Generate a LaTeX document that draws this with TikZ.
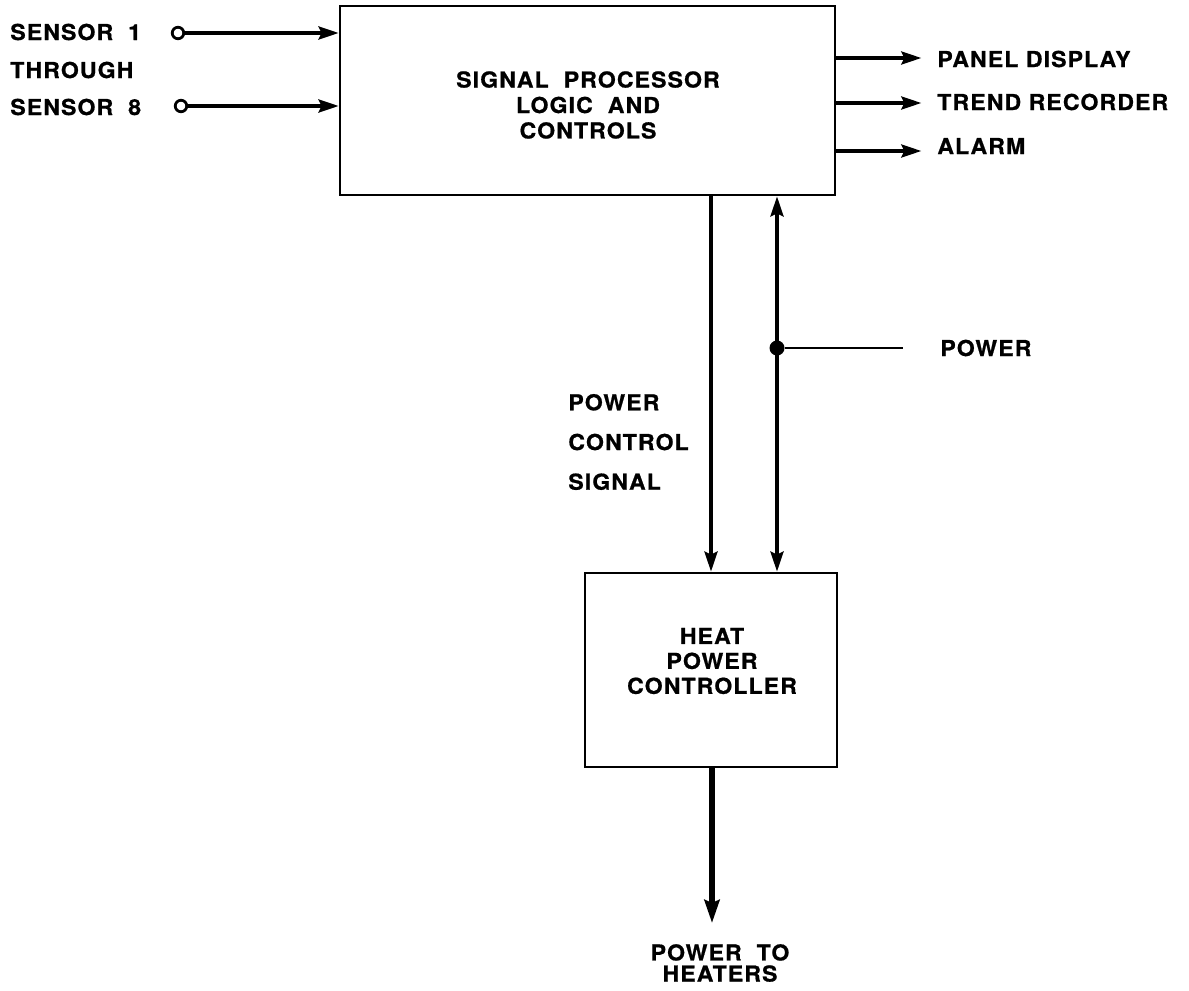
\documentclass[tikz,border=0pt]{standalone}
\usepackage{fontspec}
\setmainfont{TeX Gyre Heros}[FakeStretch=1.05, LetterSpace=5, BoldFeatures={FakeBold=0.8}]
\usetikzlibrary{arrows.meta,positioning,calc}

\begin{document}
\begin{tikzpicture}[
        x=0.02cm, y=-0.02cm,
        blockBox/.style={
            draw,
            line width=1.6pt,
            inner sep=0pt
        },
        sigLabel/.style={
            font=\bfseries\fontsize{12.5}{12.5}\selectfont,
            inner sep=0pt
        },
        sigArrow/.style={
            -{Stealth[length=4mm, width=2.6mm, inset=0.6mm]},
            line width=2pt
        },
        bothArrow/.style={
            {Stealth[length=4mm, width=2.6mm, inset=0.6mm]}-{Stealth[length=4mm, width=2.6mm, inset=0.6mm]},
            line width=2pt
        },
        terminal/.style={
            circle,
            draw,
            line width=1.6pt,
            minimum size=0.23cm,
            inner sep=0pt
        },
        junction/.style={
            circle,
            fill,
            minimum size=0.3cm,
            inner sep=0pt
        }
    ]
        \useasboundingbox (0,0) rectangle (1189,990);

        % Blocks
        \node[blockBox, minimum width=9.9cm, minimum height=3.78cm] (proc) at (587.5,100.5) {};
        \node[sigLabel, align=center, font=\bfseries\fontsize{12.5}{14.5}\selectfont] (procText) at (588,105)
            {SIGNAL\ \ PROCESSOR\\LOGIC\ \ AND\\CONTROLS};

        \node[blockBox, minimum width=5.04cm, minimum height=3.88cm] (heat) at (711,670) {};
        \node[sigLabel, align=center, font=\bfseries\fontsize{12.5}{14.2}\selectfont] (heatText) at (712,661)
            {HEAT\\POWER\\CONTROLLER};

        % Sensor inputs
        \node[sigLabel, anchor=west] (sensA) at (10,32) {SENSOR\ \ 1};
        \node[sigLabel, anchor=west] (sensMid) at (10,70) {THROUGH};
        \node[sigLabel, anchor=west] (sensB) at (10,107) {SENSOR\ \ 8};
        \node[terminal] (s1) at (178,33) {};
        \node[terminal] (s8) at (181,106) {};
        \draw[sigArrow] (s1) -- (s1 -| proc.west);
        \draw[sigArrow] (s8) -- (s8 -| proc.west);

        % Outputs
        \node[sigLabel, anchor=west] (panel) at (937,59) {PANEL DISPLAY};
        \node[sigLabel, anchor=west] (trend) at (937,102) {TREND RECORDER};
        \node[sigLabel, anchor=west] (alarm) at (937,146) {ALARM};
        \draw[sigArrow] (proc.east |- 0,58) -- ++(85,0) coordinate (panelEnd);
        \draw[sigArrow] (proc.east |- 0,103) -- ++(85,0) coordinate (trendEnd);
        \draw[sigArrow] (proc.east |- 0,151) -- ++(85,0) coordinate (alarmEnd);

        % Power control signal and power feed
        \draw[sigArrow] (heat.north |- proc.south) -- (heat.north);
        \node[sigLabel, align=left, anchor=west, font=\bfseries\fontsize{12.5}{22.6}\selectfont] (pcsText) at (568,442)
            {POWER\\CONTROL\\SIGNAL};

        \node[junction] (pwrTap) at (777,348) {};
        \coordinate (pwrEnd) at (903,348);
        \node[sigLabel, anchor=west] (pwrText) at (940,348) {POWER};
        \draw[bothArrow] (pwrTap |- proc.south) -- (pwrTap |- heat.north);
        \draw[line width=1.6pt] (pwrTap) -- (pwrEnd);

        % Output to heaters
        \coordinate (heatOut) at (712,923);
        \draw[-{Stealth[length=4.6mm, width=3mm, inset=0.6mm]}, line width=3pt] (heat.south -| heatOut) -- (heatOut);
        \node[sigLabel, align=center, font=\bfseries\fontsize{12.5}{12}\selectfont] (heaters) at (720,963)
            {POWER\ \ TO\\HEATERS};

    \end{tikzpicture}
\end{document}
